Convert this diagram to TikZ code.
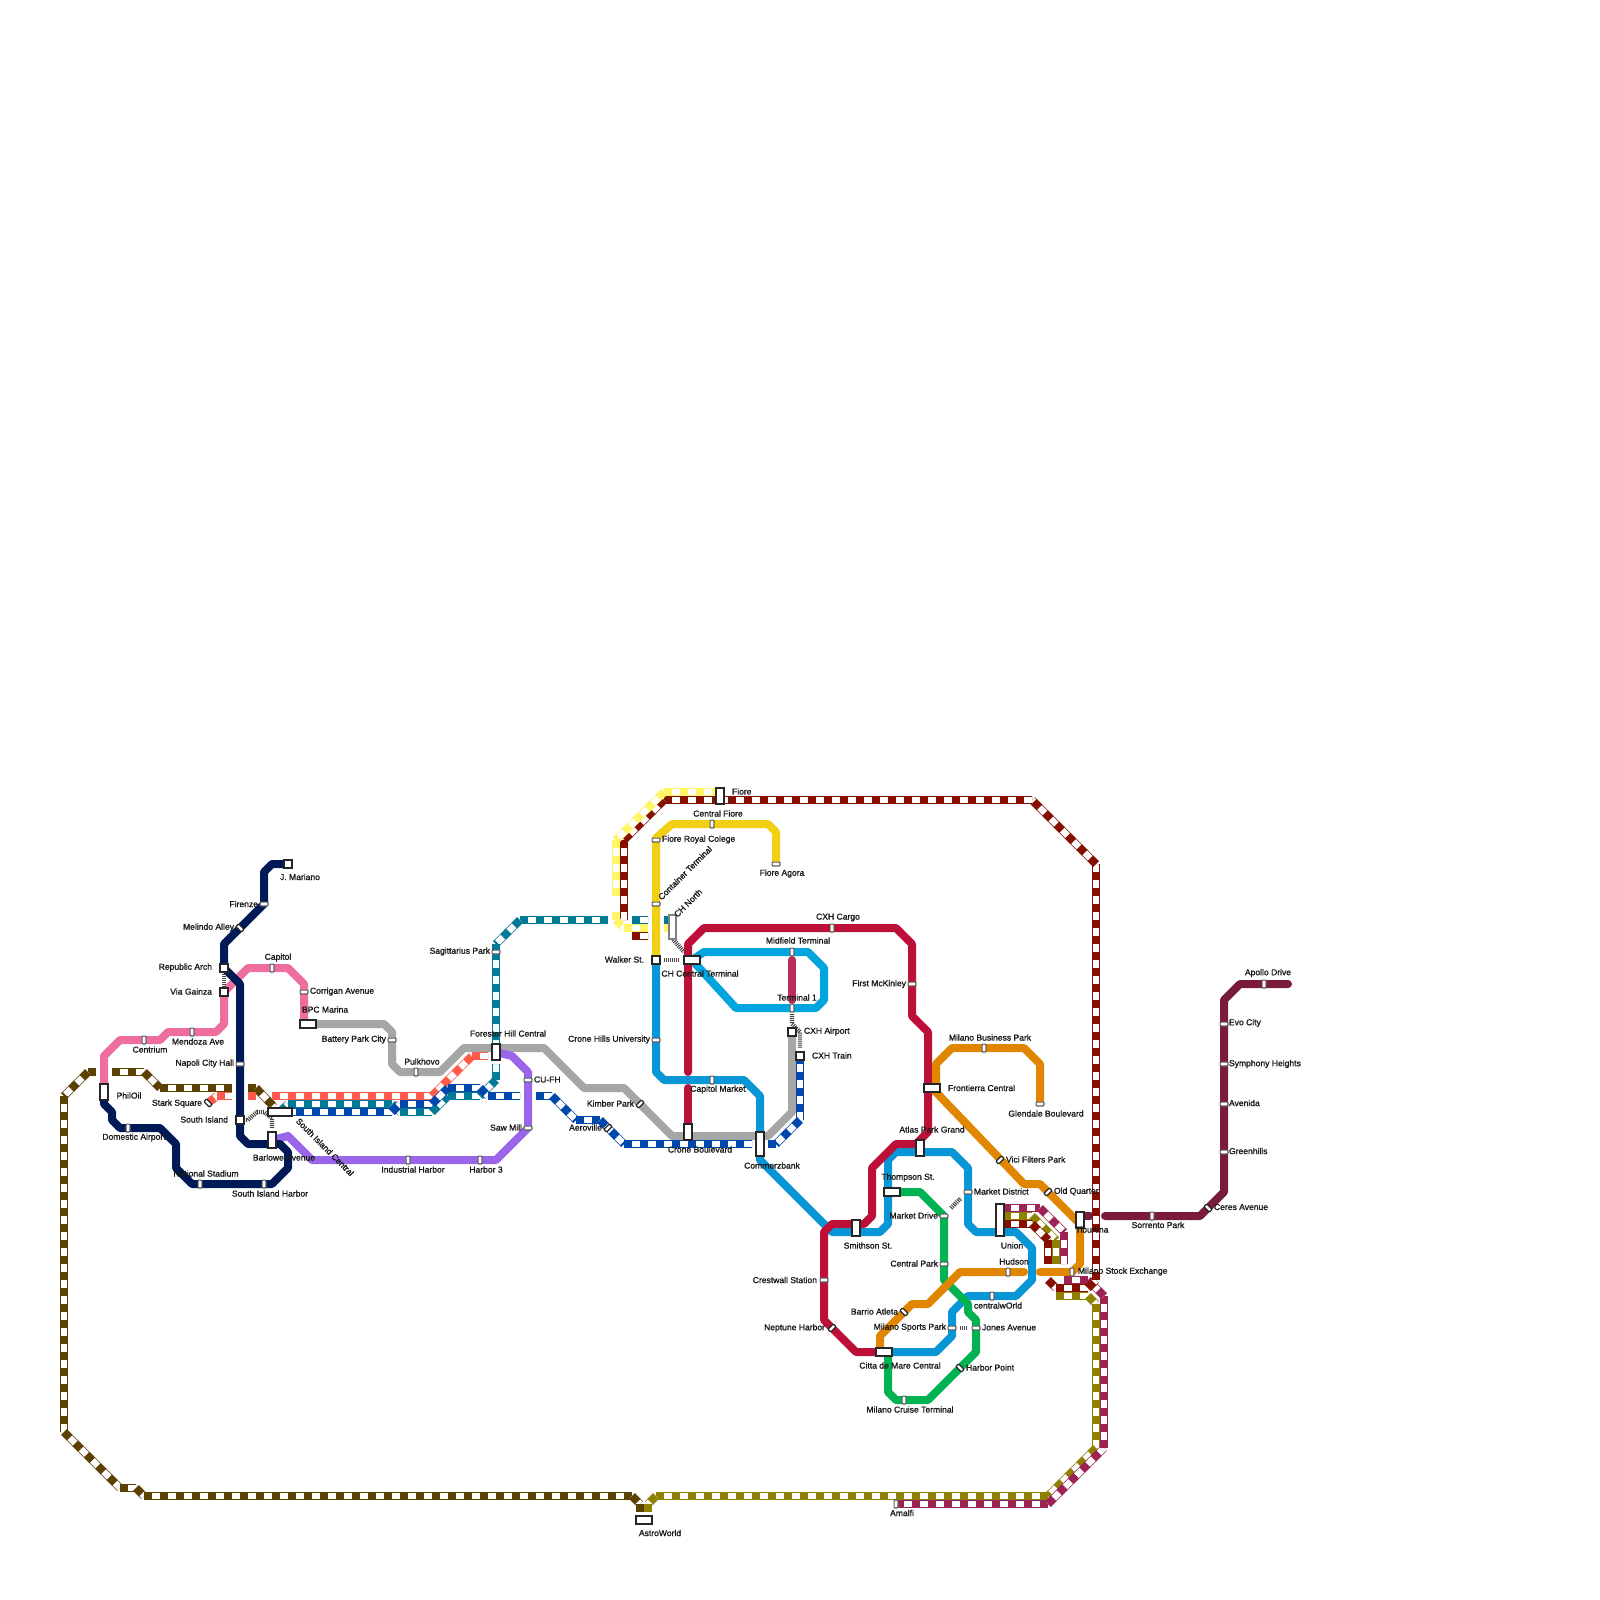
\documentclass[tikz,border=0pt]{standalone}
\usepackage{fontspec}
\setmainfont{Liberation Sans}
\newfontfamily\labf[FakeBold=1.2]{Liberation Sans}
\definecolor{cnavy}{HTML}{001A57}
\definecolor{cpink}{HTML}{EE6F9F}
\definecolor{cgray}{HTML}{A6A6A6}
\definecolor{cpurple}{HTML}{9966EA}
\definecolor{ccyan}{HTML}{0896D7}
\definecolor{clcyan}{HTML}{00A5DE}
\definecolor{ccrim}{HTML}{BD1038}
\definecolor{clink}{HTML}{B82D5A}
\definecolor{cgold}{HTML}{F0CF14}
\definecolor{cgreen}{HTML}{00B251}
\definecolor{corange}{HTML}{E08600}
\definecolor{cburg}{HTML}{7A1A3C}
\definecolor{clyel}{HTML}{FFF566}
\definecolor{cdred}{HTML}{850F00}
\definecolor{colive}{HTML}{8E8000}
\definecolor{cmag}{HTML}{9C2455}
\definecolor{cbrown}{HTML}{5C4000}
\definecolor{ccoral}{HTML}{FF5A4A}
\definecolor{cteal}{HTML}{007A96}
\definecolor{cblue}{HTML}{0047AB}
\definecolor{chatch}{HTML}{444444}
\tikzset{
  metro/.style={line width=4pt,line join=round,draw=#1},
  metroc/.style={metro=#1,line cap=round},
  hatchlink/.style={line width=2.2pt,draw=chatch,dash pattern=on 0.5pt off 0.5pt},
  bigst/.style={draw=black!85,fill=white,line width=1pt,inner sep=0pt,outer sep=0pt,minimum width=#1},
  b1/.style={bigst=3.7pt,minimum height=3.7pt},
  bh/.style={bigst=7.7pt,minimum height=3.7pt},
  bhh/.style={bigst=11.7pt,minimum height=3.7pt},
  bv/.style={bigst=3.7pt,minimum height=7.7pt},
  bvv/.style={bigst=3.7pt,minimum height=11.7pt},
  bvx/.style={bigst=3.7pt,minimum height=15.7pt},
  smst/.style={draw=black!62,fill=white,line width=0.6pt,rounded corners=0.4pt,inner sep=0pt,outer sep=0pt},
  sv/.style={smst,minimum width=1.9pt,minimum height=3.9pt},
  sh/.style={smst,minimum width=3.9pt,minimum height=1.9pt},
  sdl/.style={sv,rotate=45,draw=black!85},
  sdr/.style={sv,rotate=-45,draw=black!85},
  lab/.style={font=\labf\fontsize{4.28}{5}\selectfont,text=black!90,inner sep=0pt,outer sep=0pt},
  le/.style={lab,anchor=east},
  lw/.style={lab,anchor=west},
  lc/.style={lab,anchor=center}
}
% a dashed line: each straight piece starts its own dash
\newcommand\dline[2]{%
  \foreach \p [count=\i,remember=\p as \q] in {#2}{%
    \ifnum\i>1
      \draw[draw=#1,line width=4pt] \q -- \p;
      \draw[draw=white,line width=3.3pt] \q -- \p;
      \draw[draw=#1,line width=4pt,dash pattern=on 4pt off 4pt] \q -- \p;
    \fi
  }%
}
\begin{document}
\begin{tikzpicture}[x=0.5pt,y=-0.5pt]
\useasboundingbox (0,0) rectangle (1600,1600);
\fill[white] (0,0) rectangle (1600,1600);
% station positions
\coordinate (jm) at (288,864);
\coordinate (fir) at (264,904);
\coordinate (mel) at (240,928);
\coordinate (rep) at (224,968);
\coordinate (via) at (224,992);
\coordinate (nap) at (240,1064);
\coordinate (sis) at (240,1120);
\coordinate (bar) at (272,1140);
\coordinate (sih) at (264,1184);
\coordinate (nat) at (200,1184);
\coordinate (dom) at (128,1128);
\coordinate (phi) at (104,1092);
\coordinate (cen) at (144,1040);
\coordinate (men) at (192,1032);
\coordinate (cap) at (272,968);
\coordinate (cor) at (304,992);
\coordinate (bpc) at (308,1024);
\coordinate (bat) at (392,1040);
\coordinate (pul) at (416,1072);
\coordinate (for) at (496,1052);
\coordinate (kim) at (640,1104);
\coordinate (cro) at (688,1132);
\coordinate (com) at (760,1144);
\coordinate (cxa) at (792,1032);
\coordinate (cxt) at (800,1056);
\coordinate (cuf) at (528,1080);
\coordinate (saw) at (528,1128);
\coordinate (ha3) at (480,1160);
\coordinate (ind) at (408,1160);
\coordinate (wal) at (656,960);
\coordinate (chu) at (656,1040);
\coordinate (cmk) at (712,1080);
\coordinate (smi) at (856,1228);
\coordinate (atl) at (920,1148);
\coordinate (mkd) at (968,1192);
\coordinate (uni) at (1000,1220);
\coordinate (cwo) at (992,1296);
\coordinate (msp) at (952,1328);
\coordinate (cit) at (884,1352);
\coordinate (cht) at (692,960);
\coordinate (mid) at (792,952);
\coordinate (te1) at (792,1008);
\coordinate (cxc) at (832,928);
\coordinate (fmc) at (912,984);
\coordinate (cre) at (824,1280);
\coordinate (nep) at (832,1328);
\coordinate (fro) at (932,1088);
\coordinate (mbp) at (984,1048);
\coordinate (gle) at (1040,1104);
\coordinate (vic) at (1000,1160);
\coordinate (old) at (1048,1192);
\coordinate (tib) at (1080,1220);
\coordinate (mse) at (1072,1272);
\coordinate (hud) at (1008,1272);
\coordinate (bal) at (904,1312);
\coordinate (tho) at (892,1192);
\coordinate (mdr) at (944,1216);
\coordinate (cpk) at (944,1264);
\coordinate (jon) at (976,1328);
\coordinate (hpt) at (960,1368);
\coordinate (mct) at (904,1400);
\coordinate (frc) at (656,840);
\coordinate (ctn) at (656,904);
\coordinate (cfi) at (712,824);
\coordinate (fag) at (776,864);
\coordinate (fio) at (720,796);
\coordinate (chn) at (672.5,927);
\coordinate (sag) at (496,952);
\coordinate (aer) at (608,1128);
\coordinate (sic) at (280,1112);
\coordinate (sta) at (208,1103);
\coordinate (ast) at (644,1520);
\coordinate (ama) at (896,1504);
\coordinate (sor) at (1152,1216);
\coordinate (cer) at (1208,1208);
\coordinate (gre) at (1224,1152);
\coordinate (ave) at (1224,1104);
\coordinate (sym) at (1224,1064);
\coordinate (evo) at (1224,1024);
\coordinate (apo) at (1264,984);
% solid lines
\draw[metro=cpink] (phi) -- (104,1056) -- (120,1040) -- (cen) -- (160,1040) -- (168,1032) -- (men) -- (216,1032) -- (224,1024) -- (via) -- (248,968) -- (cap) -- (288,968) -- (304,984) -- (cor) -- (304,1024);
\draw[metro=cgray] (bpc) -- (384,1024) -- (392,1032) -- (bat) -- (392,1064) -- (400,1072) -- (pul) -- (440,1072) -- (464,1048) -- (544,1048) -- (584,1088) -- (624,1088) -- (kim) -- (672,1136) -- (756,1136);
\draw[metro=cgray] (764,1136) -- (768,1136) -- (792,1112) -- (cxa);
\draw[metro=cpurple] (for) -- (512,1056) -- (528,1072) -- (saw) -- (496,1160) -- (ha3) -- (ind) -- (312,1160) -- (288,1136) -- (bar);
\draw[metro=cnavy] (jm) -- (272,864) -- (264,872) -- (fir) -- (mel) -- (224,944) -- (rep) -- (240,984) -- (nap) -- (sis) -- (240,1136) -- (248,1144) -- (280,1144) -- (288,1152) -- (288,1168) -- (272,1184) -- (sih) -- (nat) -- (192,1184) -- (176,1168) -- (176,1144) -- (160,1128) -- (dom) -- (120,1128) -- (112,1120) -- (112,1112) -- (104,1104) -- (phi);
\draw[metro=ccyan] (wal) -- (chu) -- (656,1072) -- (664,1080) -- (cmk) -- (744,1080) -- (760,1096) -- (com) -- (760,1160) -- (832,1232) -- (880,1232) -- (888,1224) -- (888,1160) -- (896,1152) -- (952,1152) -- (968,1168) -- (mkd) -- (968,1224) -- (976,1232) -- (1016,1232) -- (1032,1248) -- (1032,1280) -- (1016,1296) -- (cwo) -- (968,1296) -- (952,1312) -- (msp) -- (952,1336) -- (936,1352) -- (cit);
\draw[metro=clcyan] (cht) -- (704,952) -- (808,952) -- (824,968) -- (824,1000) -- (816,1008) -- (736,1008) -- (cht);
\draw[metroc=ccrim] (cro) -- (688,1088);
\draw[metroc=ccrim] (688,1072) -- (688,944) -- (704,928) -- (896,928) -- (912,944) -- (fmc) -- (912,1016) -- (928,1032) -- (928,1132) -- (916,1144) -- (896,1144) -- (872,1168) -- (872,1216) -- (864,1224) -- (832,1224) -- (824,1232) -- (cre) -- (824,1320) -- (856,1352) -- (cit);
\draw[metroc=clink] (792,960) -- (792,1000);
\draw[metro=cgold] (wal) -- (656,838) -- (672,824) -- (768,824) -- (776,832) -- (fag);
\draw[metro=cgreen] (tho) -- (920,1192) -- (944,1216) -- (944,1280) -- (968,1304) -- (968,1312) -- (976,1320) -- (976,1352) -- (928,1400) -- (896,1400) -- (888,1392) -- (888,1352);
\draw[metro=corange] (fro) -- (936,1088) -- (936,1064) -- (952,1048) -- (1024,1048) -- (1040,1064) -- (gle);
\draw[metro=corange] (fro) -- (1024,1184) -- (1040,1184) -- (1080,1224) -- (1080,1264) -- (1072,1272) -- (mse);
\draw[metroc=corange] (mse) -- (1040,1272);
\draw[metroc=corange] (1024,1272) -- (960,1272) -- (928,1304) -- (912,1304) -- (880,1336) -- (880,1350);
\draw[metroc=cburg] (1080,1216) -- (1090,1216);
\draw[metroc=cburg] (1105,1216) -- (1200,1216) -- (1224,1192) -- (1224,1000) -- (1240,984) -- (1288,984);
% dashed lines
\dline{cbrown}{(96,1072),(88,1072),(64,1096),(64,1432),(120,1488),(136,1488),(144,1496),(632,1496),(640,1504),(640,1512)}
\dline{cbrown}{(112,1072),(144,1072),(160,1088),(232,1088)}
\dline{cbrown}{(248,1088),(256,1088),(274,1107)}
\dline{colive}{(1003,1216),(1032,1216),(1056,1240),(1056,1264)}
\dline{colive}{(1056,1296),(1088,1296),(1096,1304),(1096,1448),(1048,1496),(656,1496),(648,1504),(648,1512)}
\dline{cmag}{(1003,1208),(1040,1208),(1064,1232),(1064,1264)}
\dline{cmag}{(ama),(1048,1504),(1104,1448),(1104,1296),(1088,1280),(1064,1280)}
\dline{cdred}{(1003,1224),(1032,1224),(1048,1240),(1048,1264)}
\dline{cdred}{(1048,1280),(1056,1288),(1088,1288),(1096,1280),(1096,864),(1032,800)}
\dline{cdred}{(664,800),(1032,800)}
\dline{cdred}{(664,800),(624,840),(624,920)}
\dline{cdred}{(632,936),(648,936)}
\dline{clyel}{(720,792),(664,792),(616,840),(616,896)}
\dline{clyel}{(616,912),(616,920),(624,928),(648,928)}
\dline{clyel}{(664,928),(chn)}
\dline{ccoral}{(sta),(217,1096),(232,1096)}
\dline{ccoral}{(248,1096),(256,1096)}
\dline{ccoral}{(272,1096),(432,1096),(472,1056),(488,1056)}
\dline{cteal}{(sic),(288,1104),(392,1104),(400,1112),(432,1112),(448,1096),(480,1096),(496,1080),(496,1064)}
\dline{cteal}{(520,920),(608,920)}
\dline{cteal}{(520,920),(496,944),(sag),(496,1044)}
\dline{cteal}{(632,920),(648,920)}
\dline{cteal}{(664,920),(672,920)}
\dline{cblue}{(sic),(392,1112),(400,1104),(432,1104),(448,1088),(480,1088),(488,1096),(520,1096)}
\dline{cblue}{(536,1096),(552,1096),(576,1120),(600,1120),(624,1144),(752,1144)}
\dline{cblue}{(cxt),(800,1120),(776,1144),(768,1144)}
% transfer links
\draw[hatchlink] (rep) -- (via);
\draw[hatchlink] (sis) -- (248,1120) -- (257,1112) -- (264,1112) -- (272,1118) -- (272,1128);
\draw[hatchlink] (664,960) -- (680,960);
\draw[hatchlink] (672,938) -- (684,952);
\draw[hatchlink] (792,1014) -- (792,1024) -- (800,1032) -- (800,1048);
\draw[hatchlink] (951,1208) -- (961,1198);
\draw[hatchlink] (960,1328) -- (968,1328);
% stations
\node[b1] (n-jm) at (jm) {};
\node[sh] (n-fir) at (fir) {};
\node[sdl] (n-mel) at (mel) {};
\node[b1] (n-rep) at (rep) {};
\node[b1] (n-via) at (via) {};
\node[sh] (n-nap) at (nap) {};
\node[b1] (n-sis) at (sis) {};
\node[bv] (n-bar) at (bar) {};
\node[sv] (n-sih) at (sih) {};
\node[sv] (n-nat) at (nat) {};
\node[sv] (n-dom) at (dom) {};
\node[bv] (n-phi) at (phi) {};
\node[sv] (n-cen) at (cen) {};
\node[sv] (n-men) at (men) {};
\node[sv] (n-cap) at (cap) {};
\node[sh] (n-cor) at (cor) {};
\node[bh] (n-bpc) at (bpc) {};
\node[sh] (n-bat) at (bat) {};
\node[sv] (n-pul) at (pul) {};
\node[bv] (n-for) at (for) {};
\node[sdr] (n-kim) at (kim) {};
\node[bv] (n-cro) at (cro) {};
\node[bvv] (n-com) at (com) {};
\node[b1] (n-cxa) at (cxa) {};
\node[b1] (n-cxt) at (cxt) {};
\node[sh] (n-cuf) at (cuf) {};
\node[sh] (n-saw) at (saw) {};
\node[sv] (n-ha3) at (ha3) {};
\node[sv] (n-ind) at (ind) {};
\node[b1] (n-wal) at (wal) {};
\node[sh] (n-chu) at (chu) {};
\node[sv] (n-cmk) at (cmk) {};
\node[bv] (n-smi) at (smi) {};
\node[bv] (n-atl) at (atl) {};
\node[sh] (n-mkd) at (mkd) {};
\node[bvx] (n-uni) at (uni) {};
\node[sv] (n-cwo) at (cwo) {};
\node[sh] (n-msp) at (msp) {};
\node[bh] (n-cit) at (cit) {};
\node[bh] (n-cht) at (cht) {};
\node[sv] (n-mid) at (mid) {};
\node[sv] (n-te1) at (te1) {};
\node[sv] (n-cxc) at (cxc) {};
\node[sh] (n-fmc) at (fmc) {};
\node[sh] (n-cre) at (cre) {};
\node[sdr] (n-nep) at (nep) {};
\node[bh] (n-fro) at (fro) {};
\node[sv] (n-mbp) at (mbp) {};
\node[sh] (n-gle) at (gle) {};
\node[sdr] (n-vic) at (vic) {};
\node[sdr] (n-old) at (old) {};
\node[bv] (n-tib) at (tib) {};
\node[sv] (n-mse) at (mse) {};
\node[sv] (n-hud) at (hud) {};
\node[sdl] (n-bal) at (bal) {};
\node[bh] (n-tho) at (tho) {};
\node[sh] (n-mdr) at (mdr) {};
\node[sh] (n-cpk) at (cpk) {};
\node[sh] (n-jon) at (jon) {};
\node[sdl] (n-hpt) at (hpt) {};
\node[sv] (n-mct) at (mct) {};
\node[sh] (n-frc) at (frc) {};
\node[sh] (n-ctn) at (ctn) {};
\node[sv] (n-cfi) at (cfi) {};
\node[sh] (n-fag) at (fag) {};
\node[bv] (n-fio) at (fio) {};
\node[bvv,draw=black!50] (n-chn) at (chn) {};
\node[sh] (n-sag) at (sag) {};
\node[sdr] (n-aer) at (aer) {};
\node[bhh] (n-sic) at (sic) {};
\node[sdl] (n-sta) at (sta) {};
\node[bh] (n-ast) at (ast) {};
\node[sv] (n-ama) at (ama) {};
\node[sv] (n-sor) at (sor) {};
\node[sdl] (n-cer) at (cer) {};
\node[sh] (n-gre) at (gre) {};
\node[sh] (n-ave) at (ave) {};
\node[sh] (n-sym) at (sym) {};
\node[sh] (n-evo) at (evo) {};
\node[sv] (n-apo) at (apo) {};
% labels
\node[lc] (l-jm) at (300,877) {J. Mariano};
\node[le] (l-fir) at (258,904) {Firenze};
\node[le] (l-mel) at (234,927.5) {Melindo Alley};
\node[le] (l-rep) at (212,967.5) {Republic Arch};
\node[le] (l-via) at (212,991.5) {Via Gainza};
\node[lc] (l-cap) at (278,957.5) {Capitol};
\node[lw] (l-cor) at (310,991.5) {Corrigan Avenue};
\node[lw] (l-bpc) at (302,1009.5) {BPC Marina};
\node[le] (l-bat) at (386,1039.5) {Battery Park City};
\node[lc] (l-cen) at (150,1049.5) {Centrium};
\node[lc] (l-men) at (198,1041.5) {Mendoza Ave};
\node[le] (l-nap) at (234,1063.5) {Napoli City Hall};
\node[lc] (l-phi) at (129,1095.5) {PhilOil};
\node[le] (l-sta) at (202,1103.5) {Stark Square};
\node[le] (l-sis) at (228,1119.5) {South Island};
\node[lc] (l-dom) at (134,1137.5) {Domestic Airport};
\node[lc] (l-bar) at (284,1157.5) {Barlowe Avenue};
\node[lc] (l-nat) at (206,1173.5) {National Stadium};
\node[lc] (l-sih) at (270,1193.5) {South Island Harbor};
\node[lc,rotate=-45] (l-sic) at (325,1147) {South Island Central};
\node[lc] (l-pul) at (422,1061.5) {Pulkhovo};
\node[lc] (l-for) at (508,1033.5) {Forester Hill Central};
\node[lw] (l-cuf) at (534,1079.5) {CU-FH};
\node[le] (l-saw) at (522,1127.5) {Saw Mill};
\node[le] (l-sag) at (490,951.5) {Sagittarius Park};
\node[lc] (l-ind) at (413,1169.5) {Industrial Harbor};
\node[lc] (l-ha3) at (486,1169.5) {Harbor 3};
\node[le] (l-aer) at (602,1127.5) {Aeroville};
\node[le] (l-kim) at (634,1103.5) {Kimber Park};
\node[lc] (l-cro) at (700,1149.5) {Crone Boulevard};
\node[lc] (l-com) at (772,1165.5) {Commerzbank};
\node[lc] (l-cmk) at (718,1089.5) {Capitol Market};
\node[le] (l-chu) at (650,1039.5) {Crone Hills University};
\node[le] (l-wal) at (644,959.5) {Walker St.};
\node[lc] (l-cht) at (700,973.5) {CH Central Terminal};
\node[lc,rotate=45] (l-ctn) at (685,873) {Container Terminal};
\node[lc,rotate=45] (l-chn) at (688,903) {CH North};
\node[lw] (l-frc) at (662,839.5) {Fiore Royal Colege};
\node[lc] (l-cfi) at (718,813.5) {Central Fiore};
\node[lc] (l-fag) at (782,873.5) {Fiore Agora};
\node[lw] (l-fio) at (732,791.5) {Fiore};
\node[lc] (l-mid) at (798,940.5) {Midfield Terminal};
\node[lc] (l-te1) at (797,997.5) {Terminal 1};
\node[lw] (l-cxa) at (804,1031.5) {CXH Airport};
\node[lw] (l-cxt) at (812,1055.5) {CXH Train};
\node[lc] (l-cxc) at (838,917.5) {CXH Cargo};
\node[le] (l-fmc) at (906,984) {First McKinley};
\node[lc] (l-mbp) at (990,1037.5) {Milano Business Park};
\node[lw] (l-fro) at (948,1088) {Frontierra Central};
\node[lc] (l-gle) at (1046,1113.5) {Glendale Boulevard};
\node[lc] (l-atl) at (932,1129.5) {Atlas Park Grand};
\node[lw] (l-vic) at (1006,1159.5) {Vici Filters Park};
\node[lc] (l-tho) at (908,1177.5) {Thompson St.};
\node[lw] (l-mkd) at (974,1191.5) {Market District};
\node[lw] (l-old) at (1054,1191.5) {Old Quarter};
\node[le] (l-mdr) at (938,1215.5) {Market Drive};
\node[lc] (l-smi) at (868,1245.5) {Smithson St.};
\node[lc] (l-uni) at (1012,1245.5) {Union};
\node[lc] (l-tib) at (1092,1229.5) {Tiburtina};
\node[le] (l-cpk) at (938,1263.5) {Central Park};
\node[lc] (l-hud) at (1014,1261.5) {Hudson};
\node[lw] (l-mse) at (1078,1271.5) {Milano Stock Exchange};
\node[lc] (l-cwo) at (998,1305.5) {centralwOrld};
\node[le] (l-bal) at (898,1311.5) {Barrio Atleta};
\node[le] (l-msp) at (946,1327.5) {Milano Sports Park};
\node[lw] (l-jon) at (982,1327.5) {Jones Avenue};
\node[lc] (l-cit) at (900,1365.5) {Citta de Mare Central};
\node[lw] (l-hpt) at (966,1367.5) {Harbor Point};
\node[lc] (l-mct) at (910,1409.5) {Milano Cruise Terminal};
\node[le] (l-cre) at (817,1280) {Crestwall Station};
\node[le] (l-nep) at (825,1328) {Neptune Harbor};
\node[lc] (l-sor) at (1158,1225) {Sorrento Park};
\node[lw] (l-cer) at (1214,1207) {Ceres Avenue};
\node[lw] (l-gre) at (1229,1151) {Greenhills};
\node[lw] (l-ave) at (1229,1103) {Avenida};
\node[lw] (l-sym) at (1229,1064) {Symphony Heights};
\node[lw] (l-evo) at (1229,1023) {Evo City};
\node[lc] (l-apo) at (1268,973) {Apollo Drive};
\node[lc] (l-ama) at (902,1513) {Amalfi};
\node[lc] (l-ast) at (660,1533) {AstroWorld};
\end{tikzpicture}
\end{document}
